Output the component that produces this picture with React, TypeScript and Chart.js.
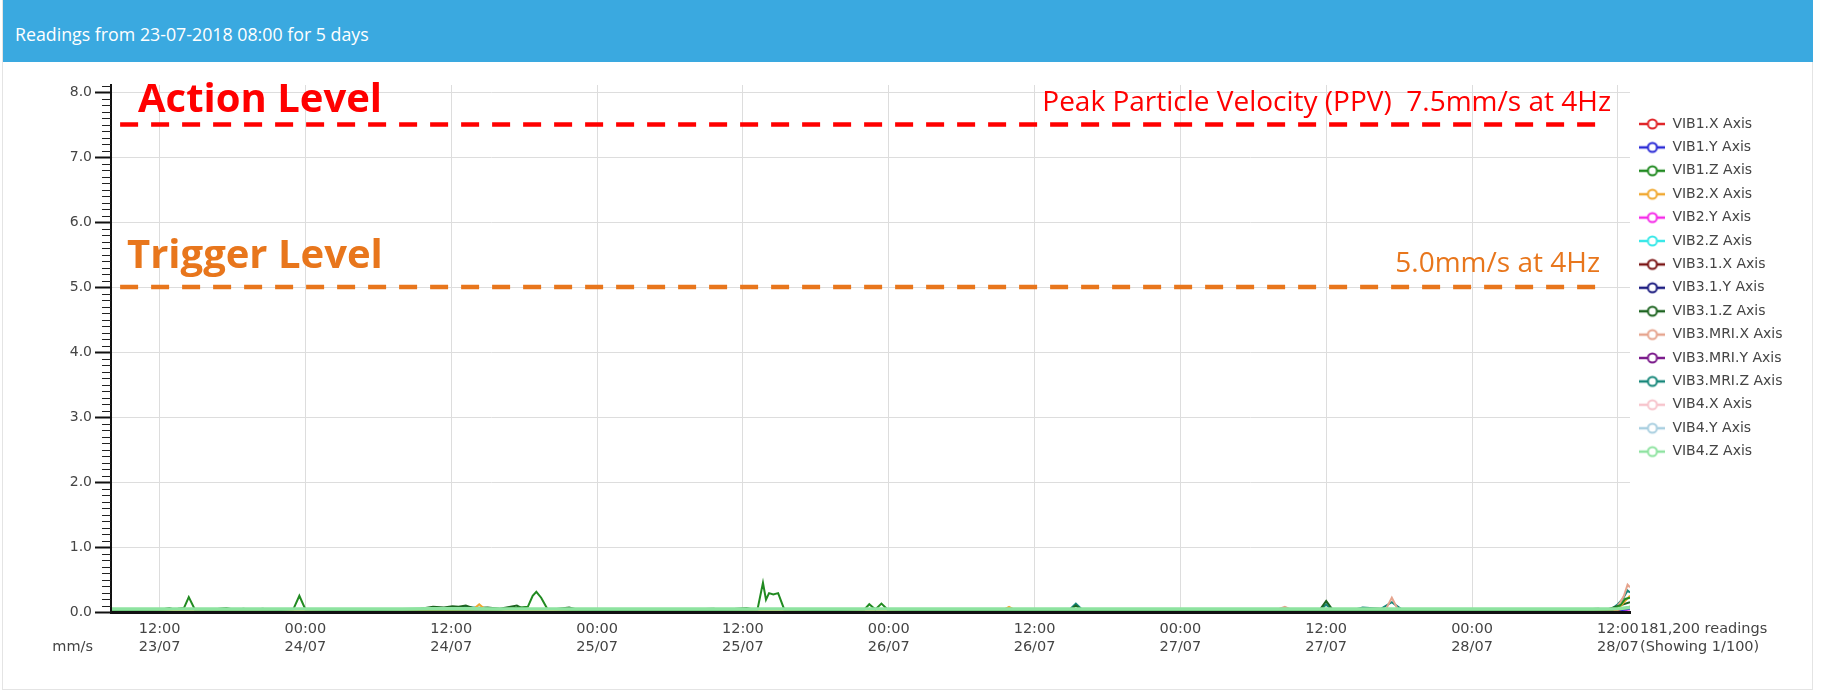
import React, { useEffect, useRef } from 'react';
import { Chart, registerables } from 'chart.js';

Chart.register(...registerables);

// ---------- text ----------
const headerTitle = 'Readings from 23-07-2018 08:00 for 5 days';
const actionTitle = 'Action Level';
const triggerTitle = 'Trigger Level';
const actionNote = 'Peak Particle Velocity (PPV)  7.5mm/s at 4Hz';
const triggerNote = '5.0mm/s at 4Hz';
const unitLabel = 'mm/s';
const readingsLines = ['181,200 readings', '(Showing 1/100)'];

// ---------- series ----------
const seriesNames = [
  'VIB1.X Axis', 'VIB1.Y Axis', 'VIB1.Z Axis', 'VIB2.X Axis', 'VIB2.Y Axis',
  'VIB2.Z Axis', 'VIB3.1.X Axis', 'VIB3.1.Y Axis', 'VIB3.1.Z Axis', 'VIB3.MRI.X Axis',
  'VIB3.MRI.Y Axis', 'VIB3.MRI.Z Axis', 'VIB4.X Axis', 'VIB4.Y Axis', 'VIB4.Z Axis',
];
const seriesColors = [
  '#e0262a', '#2a2ad6', '#218a21', '#f0a830', '#f52ae8',
  '#3ae8e8', '#7a1414', '#1c1c80', '#1d6420', '#e6a48e',
  '#7c1c8c', '#16877a', '#f7c4cc', '#a9cfe0', '#8ee3a0',
];

// hours counted from 23/07 00:00
const xTickHours = [12, 24, 36, 48, 60, 72, 84, 96, 108, 120, 132];
const xTickLabels = [
  ['12:00', '23/07'], ['00:00', '24/07'], ['12:00', '24/07'], ['00:00', '25/07'],
  ['12:00', '25/07'], ['00:00', '26/07'], ['12:00', '26/07'], ['00:00', '27/07'],
  ['12:00', '27/07'], ['00:00', '28/07'], ['12:00', '28/07'],
];
const yTickValues = [0, 1, 2, 3, 4, 5, 6, 7, 8];
const xMinHour = 8;
const xMaxHour = 133;
const yMaxValue = 8.108;

const actionLevel = 7.5;
const triggerLevel = 5.0;
const levelLineHours = [8.75, 130.5];

const quietHours = [8, 12, 16, 20, 24, 28, 32, 36, 40, 44, 48, 52, 56, 60, 64, 68, 72, 76, 80, 84, 88, 92, 96, 100, 104, 108, 112, 116, 120, 124, 128, 132, 133];
const vib1x = [0.02, 0.02, 0.02, 0.02, 0.02, 0.02, 0.02, 0.03, 0.03, 0.02, 0.02, 0.02, 0.02, 0.02, 0.02, 0.02, 0.02, 0.02, 0.02, 0.02, 0.02, 0.02, 0.02, 0.02, 0.02, 0.02, 0.02, 0.02, 0.02, 0.02, 0.02, 0.03, 0.08];
const vib1y = [0.015, 0.015, 0.015, 0.015, 0.015, 0.015, 0.015, 0.02, 0.02, 0.015, 0.015, 0.015, 0.015, 0.015, 0.015, 0.015, 0.015, 0.015, 0.015, 0.015, 0.015, 0.015, 0.015, 0.015, 0.015, 0.015, 0.015, 0.015, 0.015, 0.015, 0.015, 0.02, 0.05];
const vib2y = [0.015, 0.015, 0.015, 0.015, 0.015, 0.015, 0.015, 0.015, 0.015, 0.015, 0.015, 0.015, 0.015, 0.015, 0.015, 0.015, 0.015, 0.015, 0.015, 0.015, 0.015, 0.015, 0.015, 0.015, 0.015, 0.015, 0.015, 0.015, 0.015, 0.015, 0.015, 0.02, 0.04];
const vib2z = [0.03, 0.03, 0.03, 0.03, 0.03, 0.03, 0.03, 0.035, 0.035, 0.03, 0.03, 0.03, 0.03, 0.03, 0.03, 0.03, 0.03, 0.03, 0.03, 0.03, 0.03, 0.03, 0.03, 0.03, 0.03, 0.03, 0.03, 0.03, 0.03, 0.03, 0.03, 0.035, 0.06];
const vib31x = [0.02, 0.02, 0.02, 0.02, 0.02, 0.02, 0.02, 0.02, 0.02, 0.02, 0.02, 0.02, 0.02, 0.02, 0.02, 0.02, 0.02, 0.02, 0.02, 0.02, 0.02, 0.02, 0.02, 0.02, 0.02, 0.02, 0.02, 0.02, 0.02, 0.02, 0.02, 0.025, 0.05];
const vib31y = [0.02, 0.02, 0.02, 0.02, 0.02, 0.02, 0.02, 0.025, 0.025, 0.02, 0.02, 0.02, 0.02, 0.02, 0.02, 0.02, 0.02, 0.02, 0.02, 0.02, 0.02, 0.02, 0.02, 0.02, 0.02, 0.02, 0.02, 0.02, 0.02, 0.02, 0.02, 0.025, 0.05];
const vibMriY = [0.02, 0.02, 0.02, 0.02, 0.02, 0.02, 0.02, 0.02, 0.02, 0.02, 0.02, 0.02, 0.02, 0.02, 0.02, 0.02, 0.02, 0.02, 0.02, 0.02, 0.02, 0.02, 0.02, 0.02, 0.02, 0.02, 0.02, 0.02, 0.02, 0.02, 0.02, 0.025, 0.05];
const vib4x = [0.03, 0.03, 0.03, 0.03, 0.03, 0.03, 0.03, 0.03, 0.03, 0.03, 0.03, 0.03, 0.03, 0.03, 0.03, 0.03, 0.03, 0.03, 0.03, 0.03, 0.03, 0.03, 0.03, 0.03, 0.03, 0.03, 0.03, 0.03, 0.03, 0.03, 0.03, 0.035, 0.06];
const vib4y = [0.035, 0.035, 0.035, 0.035, 0.035, 0.035, 0.035, 0.04, 0.04, 0.035, 0.035, 0.035, 0.035, 0.035, 0.035, 0.035, 0.035, 0.035, 0.035, 0.035, 0.035, 0.035, 0.035, 0.035, 0.035, 0.035, 0.035, 0.035, 0.035, 0.035, 0.035, 0.04, 0.08];

const bandHours = [8, 10, 12, 14, 16, 18, 20, 22, 24, 26, 28, 30, 32, 34, 36, 38, 40, 42, 44, 46, 48, 50, 52, 54, 56, 58, 60, 62, 64, 66, 68, 70, 72, 74, 76, 78, 80, 82, 84, 86, 88, 90, 92, 94, 96, 98, 100, 102, 104, 106, 108, 110, 112, 114, 116, 118, 120, 122, 124, 126, 128, 130, 132, 133];
const vib4z = [0.045, 0.045, 0.045, 0.045, 0.045, 0.045, 0.045, 0.045, 0.045, 0.045, 0.045, 0.045, 0.045, 0.05, 0.05, 0.05, 0.045, 0.045, 0.045, 0.045, 0.045, 0.045, 0.045, 0.045, 0.045, 0.045, 0.045, 0.045, 0.045, 0.045, 0.045, 0.045, 0.045, 0.045, 0.045, 0.045, 0.045, 0.045, 0.045, 0.045, 0.045, 0.045, 0.045, 0.045, 0.045, 0.045, 0.045, 0.045, 0.045, 0.045, 0.045, 0.045, 0.045, 0.045, 0.045, 0.045, 0.045, 0.045, 0.045, 0.045, 0.045, 0.045, 0.05, 0.07];

const vib1zHours = [8, 10, 12, 13.5, 14, 14.4, 14.9, 16, 18, 20, 22, 23, 23.5, 24, 26, 28, 30, 32, 34, 36, 38, 40, 42.3, 42.7, 43, 43.4, 43.9, 46, 48, 50, 52, 54, 56, 58, 60, 61.2, 61.65, 61.9, 62.15, 62.5, 62.9, 63.4, 66, 68, 70, 70.4, 70.9, 71.4, 71.9, 74, 78, 82, 86, 90, 94, 98, 102, 106, 110, 114, 118, 122, 126, 130, 131.6, 132.2, 132.6, 133];
const vib1z = [0.03, 0.03, 0.035, 0.05, 0.06, 0.23, 0.04, 0.035, 0.035, 0.035, 0.03, 0.04, 0.25, 0.04, 0.03, 0.03, 0.03, 0.035, 0.04, 0.04, 0.04, 0.04, 0.08, 0.25, 0.31, 0.22, 0.05, 0.035, 0.03, 0.03, 0.03, 0.03, 0.03, 0.03, 0.035, 0.04, 0.45, 0.19, 0.29, 0.27, 0.29, 0.04, 0.03, 0.03, 0.04, 0.12, 0.04, 0.13, 0.04, 0.03, 0.03, 0.03, 0.03, 0.03, 0.03, 0.03, 0.03, 0.03, 0.03, 0.03, 0.03, 0.03, 0.03, 0.035, 0.04, 0.1, 0.2, 0.22];

const vib31zHours = [8, 12, 12.8, 13.3, 16, 17.5, 18.2, 18.9, 19.6, 20.5, 21.2, 24, 28, 32, 33.5, 34.5, 35.4, 36.1, 36.6, 37.2, 37.8, 39, 40, 41.4, 42, 44, 45.7, 46.5, 50, 54, 57.6, 58.3, 60.3, 61, 64, 68, 72, 76, 80, 84, 87, 87.4, 87.8, 92, 96, 100, 104, 107.5, 108, 108.5, 112, 116, 120, 124, 128, 130.4, 131, 133];
const vib31z = [0.03, 0.03, 0.06, 0.03, 0.03, 0.06, 0.03, 0.05, 0.03, 0.05, 0.03, 0.03, 0.03, 0.03, 0.05, 0.08, 0.07, 0.09, 0.08, 0.1, 0.06, 0.07, 0.05, 0.1, 0.04, 0.03, 0.07, 0.03, 0.03, 0.03, 0.05, 0.03, 0.06, 0.03, 0.03, 0.03, 0.03, 0.03, 0.03, 0.03, 0.04, 0.1, 0.04, 0.03, 0.03, 0.03, 0.03, 0.04, 0.17, 0.04, 0.03, 0.03, 0.03, 0.03, 0.03, 0.05, 0.03, 0.15];

const vib2xHours = [8, 16, 24, 32, 36, 37.8, 38.3, 38.8, 40, 48, 56, 64, 72, 80, 81.4, 81.9, 82.4, 88, 96, 104, 112, 120, 128, 132, 132.5, 133];
const vib2x = [0.02, 0.02, 0.02, 0.02, 0.03, 0.04, 0.12, 0.04, 0.03, 0.02, 0.02, 0.02, 0.02, 0.03, 0.03, 0.08, 0.03, 0.02, 0.02, 0.03, 0.02, 0.02, 0.02, 0.04, 0.15, 0.25];

const vibMriXHours = [8, 16, 24, 32, 40, 48, 56, 64, 72, 80, 96, 103.4, 104, 104.6, 105.2, 108, 112.3, 112.9, 113.4, 113.9, 116, 124, 131.8, 132.2, 132.5, 132.8, 133];
const vibMriX = [0.03, 0.03, 0.03, 0.03, 0.03, 0.03, 0.03, 0.03, 0.03, 0.03, 0.03, 0.03, 0.04, 0.08, 0.03, 0.03, 0.05, 0.04, 0.22, 0.04, 0.03, 0.03, 0.05, 0.15, 0.25, 0.42, 0.38];

const vibMriZHours = [8, 16, 24, 32, 36, 37, 40, 48, 56, 64, 72, 80, 86.9, 87.4, 87.9, 92, 100, 107.6, 108, 108.4, 110.4, 111, 112.5, 113.4, 114.2, 116, 124, 131.5, 132, 132.4, 132.8, 133];
const vibMriZ = [0.03, 0.03, 0.03, 0.04, 0.05, 0.08, 0.04, 0.03, 0.03, 0.03, 0.03, 0.03, 0.04, 0.13, 0.04, 0.03, 0.03, 0.04, 0.12, 0.04, 0.04, 0.07, 0.05, 0.15, 0.04, 0.03, 0.03, 0.05, 0.12, 0.2, 0.33, 0.3];

const seriesHours = [quietHours, quietHours, vib1zHours, vib2xHours, quietHours, quietHours, quietHours, quietHours, vib31zHours, vibMriXHours, quietHours, vibMriZHours, quietHours, quietHours, bandHours];
const seriesValues = [vib1x, vib1y, vib1z, vib2x, vib2y, vib2z, vib31x, vib31y, vib31z, vibMriX, vibMriY, vibMriZ, vib4x, vib4y, vib4z];
const seriesOrder = [3, 3, 2, 2, 3, 3, 3, 3, 2, 2, 3, 2, 3, 3, 1];

const RED = '#ff0000';
const ORANGE = '#e8761c';
const TEXT = '#444444';

// ---------- layout constants (px) ----------
const PAGE_W = 1846;
const PAGE_H = 693;
const HEADER_H = 62;
const PLOT_LEFT = 111;
const PLOT_RIGHT = 1630;
const PLOT_TOP_IN_CANVAS = 23;
const X_AXIS_H = 81;
const LEGEND_FONT = 14;
const LEGEND_PAD = 9.4;
const LEGEND_BOX_W = 26;

function makeLegendImage(color: string) {
  const c = document.createElement('canvas');
  c.width = LEGEND_BOX_W;
  c.height = 14;
  const g = c.getContext('2d')!;
  g.strokeStyle = color;
  g.lineWidth = 2.5;
  g.beginPath();
  g.moveTo(0, 7);
  g.lineTo(LEGEND_BOX_W, 7);
  g.stroke();
  g.beginPath();
  g.arc(LEGEND_BOX_W / 2, 7, 4.5, 0, Math.PI * 2);
  g.fillStyle = '#ffffff';
  g.fill();
  g.lineWidth = 2;
  g.stroke();
  return c;
}

const overlayPlugin = {
  id: 'overlay',
  afterDraw(chart: any) {
    const { ctx, chartArea, scales } = chart;
    const y = scales.y;
    ctx.save();
    // minor ticks every 0.1
    ctx.strokeStyle = '#222';
    ctx.lineWidth = 1;
    for (let i = 1; i <= 81; i++) {
      if (i % 10 === 0) continue;
      const py = Math.round(y.getPixelForValue(i / 10)) + 0.5;
      ctx.beginPath();
      ctx.moveTo(chartArea.left - 9, py);
      ctx.lineTo(chartArea.left, py);
      ctx.stroke();
    }
    const yA = y.getPixelForValue(actionLevel);
    const yT = y.getPixelForValue(triggerLevel);
    ctx.textBaseline = 'alphabetic';
    ctx.textAlign = 'left';
    ctx.font = 'bold 40px "Open Sans"';
    ctx.fillStyle = RED;
    ctx.fillText(actionTitle, chartArea.left + 27, yA - 13);
    ctx.fillStyle = ORANGE;
    ctx.fillText(triggerTitle, chartArea.left + 16, yT - 19);
    ctx.font = '28px "Open Sans"';
    ctx.textAlign = 'right';
    ctx.fillStyle = RED;
    ctx.fillText(actionNote, chartArea.right - 19, yA - 14);
    ctx.fillStyle = ORANGE;
    ctx.fillText(triggerNote, chartArea.right - 30, yT - 15);

    ctx.font = '14.5px "DejaVu Sans"';
    ctx.fillStyle = TEXT;
    ctx.textBaseline = 'middle';
    ctx.textAlign = 'right';
    ctx.fillText(unitLabel, chartArea.left - 18, chartArea.bottom + 35);
    ctx.textAlign = 'left';
    ctx.fillText(readingsLines[0], chartArea.right + 10, chartArea.bottom + 17);
    ctx.fillText(readingsLines[1], chartArea.right + 10, chartArea.bottom + 35);
    ctx.restore();
  },
};

export default function App() {
  const canvasRef = useRef<HTMLCanvasElement | null>(null);

  useEffect(() => {
    if (!canvasRef.current) return;
    const legendImages = seriesColors.map(makeLegendImage);

    const mctx = document.createElement('canvas').getContext('2d')!;
    mctx.font = `${LEGEND_FONT}px "DejaVu Sans"`;
    const maxW = Math.max(...seriesNames.map((n) => mctx.measureText(n).width));
    const legendW = LEGEND_PAD + LEGEND_BOX_W + LEGEND_FONT / 2 + maxW + 10;
    const rightPad = Math.max(0, PAGE_W - PLOT_RIGHT - legendW);

    const levelDatasets = [
      { label: 'action', value: actionLevel, color: RED },
      { label: 'trigger', value: triggerLevel, color: ORANGE },
    ].map((l) => ({
      label: l.label,
      data: levelLineHours.map((h) => ({ x: h, y: l.value })),
      borderColor: l.color,
      backgroundColor: l.color,
      borderWidth: 4.5,
      borderDash: [18, 13],
      pointRadius: 0,
      fill: false,
      order: 0,
    }));

    const seriesDatasets = seriesNames.map((name, i) => ({
      label: name,
      data: seriesHours[i].map((h, j) => ({ x: h, y: seriesValues[i][j] })),
      borderColor: seriesColors[i],
      backgroundColor: seriesColors[i],
      borderWidth: i === 14 ? 3.5 : 2,
      pointRadius: 0,
      fill: false,
      tension: 0,
      order: seriesOrder[i],
    }));

    Chart.defaults.font.family = '"DejaVu Sans"';
    Chart.defaults.color = TEXT;

    const chart = new Chart(canvasRef.current, {
      type: 'line',
      data: { datasets: [...levelDatasets, ...seriesDatasets] as any },
      plugins: [overlayPlugin],
      options: {
        animation: false,
        responsive: true,
        maintainAspectRatio: false,
        events: [],
        layout: { padding: { top: PLOT_TOP_IN_CANVAS, left: 0, right: rightPad, bottom: 0 } },
        scales: {
          x: {
            type: 'linear',
            min: xMinHour,
            max: xMaxHour,
            afterBuildTicks: (scale: any) => {
              scale.ticks = xTickHours.map((v) => ({ value: v }));
            },
            afterFit: (scale: any) => {
              scale.height = X_AXIS_H;
            },
            ticks: {
              autoSkip: false,
              maxRotation: 0,
              minRotation: 0,
              padding: 8,
              color: TEXT,
              font: { size: 14.5, lineHeight: 1.25 },
              callback: (_v: any, i: number) => xTickLabels[i],
            },
            grid: { color: '#dddddd', lineWidth: 1, drawTicks: false },
            border: { display: true, color: '#111111', width: 3, z: 1 },
          },
          y: {
            type: 'linear',
            min: 0,
            max: yMaxValue,
            afterBuildTicks: (scale: any) => {
              scale.ticks = yTickValues.map((v) => ({ value: v }));
            },
            afterFit: (scale: any) => {
              scale.width = PLOT_LEFT;
            },
            ticks: {
              padding: 3,
              color: TEXT,
              font: { size: 14 },
              callback: (v: any) => Number(v).toFixed(1),
            },
            grid: {
              color: '#dddddd',
              lineWidth: 1,
              drawTicks: true,
              tickLength: 16,
              tickColor: '#111111',
              tickWidth: 2,
            },
            border: { display: true, color: '#111111', width: 2, z: 1 },
          },
        },
        plugins: {
          tooltip: { enabled: false },
          title: { display: false },
          legend: {
            display: true,
            position: 'right',
            align: 'start',
            title: { display: true, text: ' ', padding: { top: 12.6, bottom: 0 }, font: { size: 10, lineHeight: 1 } },
            labels: {
              usePointStyle: true,
              pointStyleWidth: LEGEND_BOX_W,
              padding: LEGEND_PAD,
              color: TEXT,
              font: { size: LEGEND_FONT },
              generateLabels: () =>
                seriesNames.map((name, i) => ({
                  text: name,
                  pointStyle: legendImages[i],
                  fillStyle: seriesColors[i],
                  strokeStyle: seriesColors[i],
                  lineWidth: 0,
                  hidden: false,
                  datasetIndex: i + 2,
                  fontColor: TEXT,
                })) as any,
            },
          },
        },
      } as any,
    });
    return () => chart.destroy();
  }, []);

  return (
    <div style={{ position: 'absolute', left: 0, top: 0, width: PAGE_W, height: PAGE_H, overflow: 'hidden', background: '#ffffff' }}>
      <div
        style={{
          position: 'absolute', left: 2, top: 0, width: 1811, height: 690,
          border: '1px solid #e4e4e4', boxSizing: 'border-box',
        }}
      />
      <div
        style={{
          position: 'absolute', left: 3, top: 0, width: 1810, height: HEADER_H,
          background: '#3aa9e0', color: '#ffffff', fontFamily: '"Open Sans", sans-serif',
          fontSize: 17.8, lineHeight: '68px', paddingLeft: 12, boxSizing: 'border-box', whiteSpace: 'nowrap',
        }}
      >
        {headerTitle}
      </div>
      <div style={{ position: 'absolute', left: 0, top: HEADER_H, width: PAGE_W, height: PAGE_H - HEADER_H }}>
        <canvas ref={canvasRef} />
      </div>
    </div>
  );
}
